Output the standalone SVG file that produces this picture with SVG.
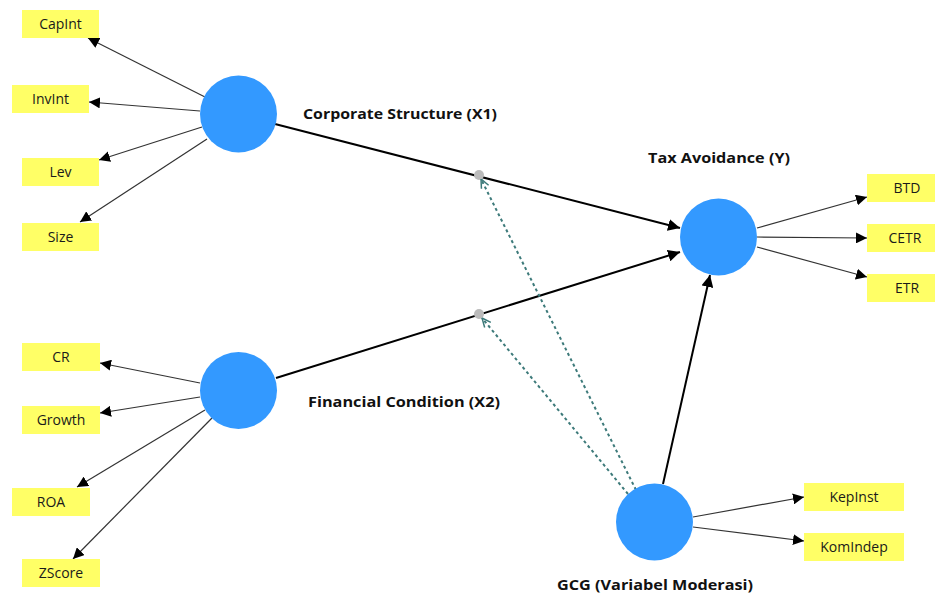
<svg xmlns="http://www.w3.org/2000/svg" width="935" height="595" viewBox="0 0 935 595">
<style>
.box{fill:#ffff66}
.ind{font-family:"Open Sans","Noto Sans",sans-serif;font-size:14px;fill:#1a1a1a;text-anchor:middle}
.lv{fill:#3399ff}
.lbl{font-family:"Open Sans","Noto Sans",sans-serif;font-size:15px;font-weight:bold;fill:#111}
.out{stroke:#333;stroke-width:1.2;fill:none;marker-end:url(#ah)}
.path{stroke:#000;stroke-width:2;fill:none;marker-end:url(#ahb)}
.mod{stroke:#3d7a7a;stroke-width:2;stroke-dasharray:3 3;fill:none;marker-end:url(#ao)}
</style>
<defs>
<marker id="ah" viewBox="0 0 10 10" refX="10" refY="5" markerWidth="11" markerHeight="11" markerUnits="userSpaceOnUse" orient="auto"><path d="M0,0 L10,5 L0,10 z" fill="#000"/></marker>
<marker id="ahb" viewBox="0 0 10 10" refX="10" refY="5" markerWidth="12" markerHeight="12" markerUnits="userSpaceOnUse" orient="auto"><path d="M0,0 L10,5 L0,10 z" fill="#000"/></marker>
<marker id="ao" viewBox="0 0 10 10" refX="10" refY="5" markerWidth="10" markerHeight="10" markerUnits="userSpaceOnUse" orient="auto"><path d="M1,1 L10,5 L1,9" fill="none" stroke="#3d7a7a" stroke-width="1.5"/></marker>
</defs>
<rect width="935" height="595" fill="#fff"/>
<g id="connectors">
<line class="out" x1="205" y1="97" x2="88" y2="38"/>
<line class="out" x1="200" y1="111" x2="89" y2="102"/>
<line class="out" x1="202" y1="127" x2="99" y2="160"/>
<line class="out" x1="207" y1="139" x2="80" y2="222"/>
<line class="out" x1="200" y1="383" x2="100" y2="363"/>
<line class="out" x1="200" y1="397" x2="100" y2="413"/>
<line class="out" x1="205" y1="410" x2="77" y2="487"/>
<line class="out" x1="212" y1="418" x2="73" y2="559"/>
<line class="out" x1="757" y1="228" x2="867" y2="197"/>
<line class="out" x1="757" y1="237" x2="867" y2="238"/>
<line class="out" x1="757" y1="247" x2="867" y2="277"/>
<line class="out" x1="693" y1="517" x2="804" y2="497"/>
<line class="out" x1="693" y1="527" x2="804" y2="541"/>
<line class="path" x1="275" y1="124" x2="680" y2="228"/>
<line class="path" x1="276" y1="378" x2="680" y2="252"/>
<line class="path" x1="663" y1="484" x2="710" y2="275"/>
<circle cx="479" cy="175" r="5" fill="#bbb"/>
<circle cx="479" cy="314" r="5" fill="#bbb"/>
<line class="mod" x1="636" y1="490" x2="481" y2="179"/>
<line class="mod" x1="628" y1="494" x2="482" y2="318"/>
</g>
<g id="x1"><circle class="lv" cx="238.5" cy="114" r="38.5"/><text class="lbl" x="303" y="119" textLength="194" lengthAdjust="spacingAndGlyphs">Corporate Structure (X1)</text></g>
<g id="x2"><circle class="lv" cx="238.5" cy="390.5" r="38.5"/><text class="lbl" x="308" y="407" textLength="192" lengthAdjust="spacingAndGlyphs">Financial Condition (X2)</text></g>
<g id="y"><circle class="lv" cx="718.5" cy="237" r="38.5"/><text class="lbl" x="648" y="163" textLength="142" lengthAdjust="spacingAndGlyphs">Tax Avoidance (Y)</text></g>
<g id="gcg"><circle class="lv" cx="654.5" cy="522" r="38.5"/><text class="lbl" x="557" y="590" textLength="196" lengthAdjust="spacingAndGlyphs">GCG (Variabel Moderasi)</text></g>
<g id="capint"><rect class="box" x="22" y="10" width="77" height="28"/><text class="ind" x="60.5" y="29">CapInt</text></g>
<g id="invint"><rect class="box" x="12" y="85" width="77" height="28"/><text class="ind" x="50.5" y="104">InvInt</text></g>
<g id="lev"><rect class="box" x="22" y="158" width="77" height="28"/><text class="ind" x="60.5" y="177">Lev</text></g>
<g id="size"><rect class="box" x="22" y="223" width="77" height="28"/><text class="ind" x="60.5" y="242">Size</text></g>
<g id="cr"><rect class="box" x="22" y="343" width="78" height="28"/><text class="ind" x="61" y="362">CR</text></g>
<g id="growth"><rect class="box" x="22" y="406" width="78" height="28"/><text class="ind" x="61" y="425">Growth</text></g>
<g id="roa"><rect class="box" x="12" y="488" width="78" height="28"/><text class="ind" x="51" y="507">ROA</text></g>
<g id="zscore"><rect class="box" x="22" y="559" width="78" height="28"/><text class="ind" x="61" y="578">ZScore</text></g>
<g id="btd"><rect class="box" x="867" y="174" width="80" height="28"/><text class="ind" x="907" y="193">BTD</text></g>
<g id="cetr"><rect class="box" x="867" y="224" width="80" height="28"/><text class="ind" x="905" y="243">CETR</text></g>
<g id="etr"><rect class="box" x="867" y="274" width="80" height="28"/><text class="ind" x="907" y="293">ETR</text></g>
<g id="kepinst"><rect class="box" x="804" y="483" width="100" height="28"/><text class="ind" x="854" y="502">KepInst</text></g>
<g id="komindep"><rect class="box" x="804" y="533" width="100" height="28"/><text class="ind" x="854" y="552">KomIndep</text></g>
</svg>
